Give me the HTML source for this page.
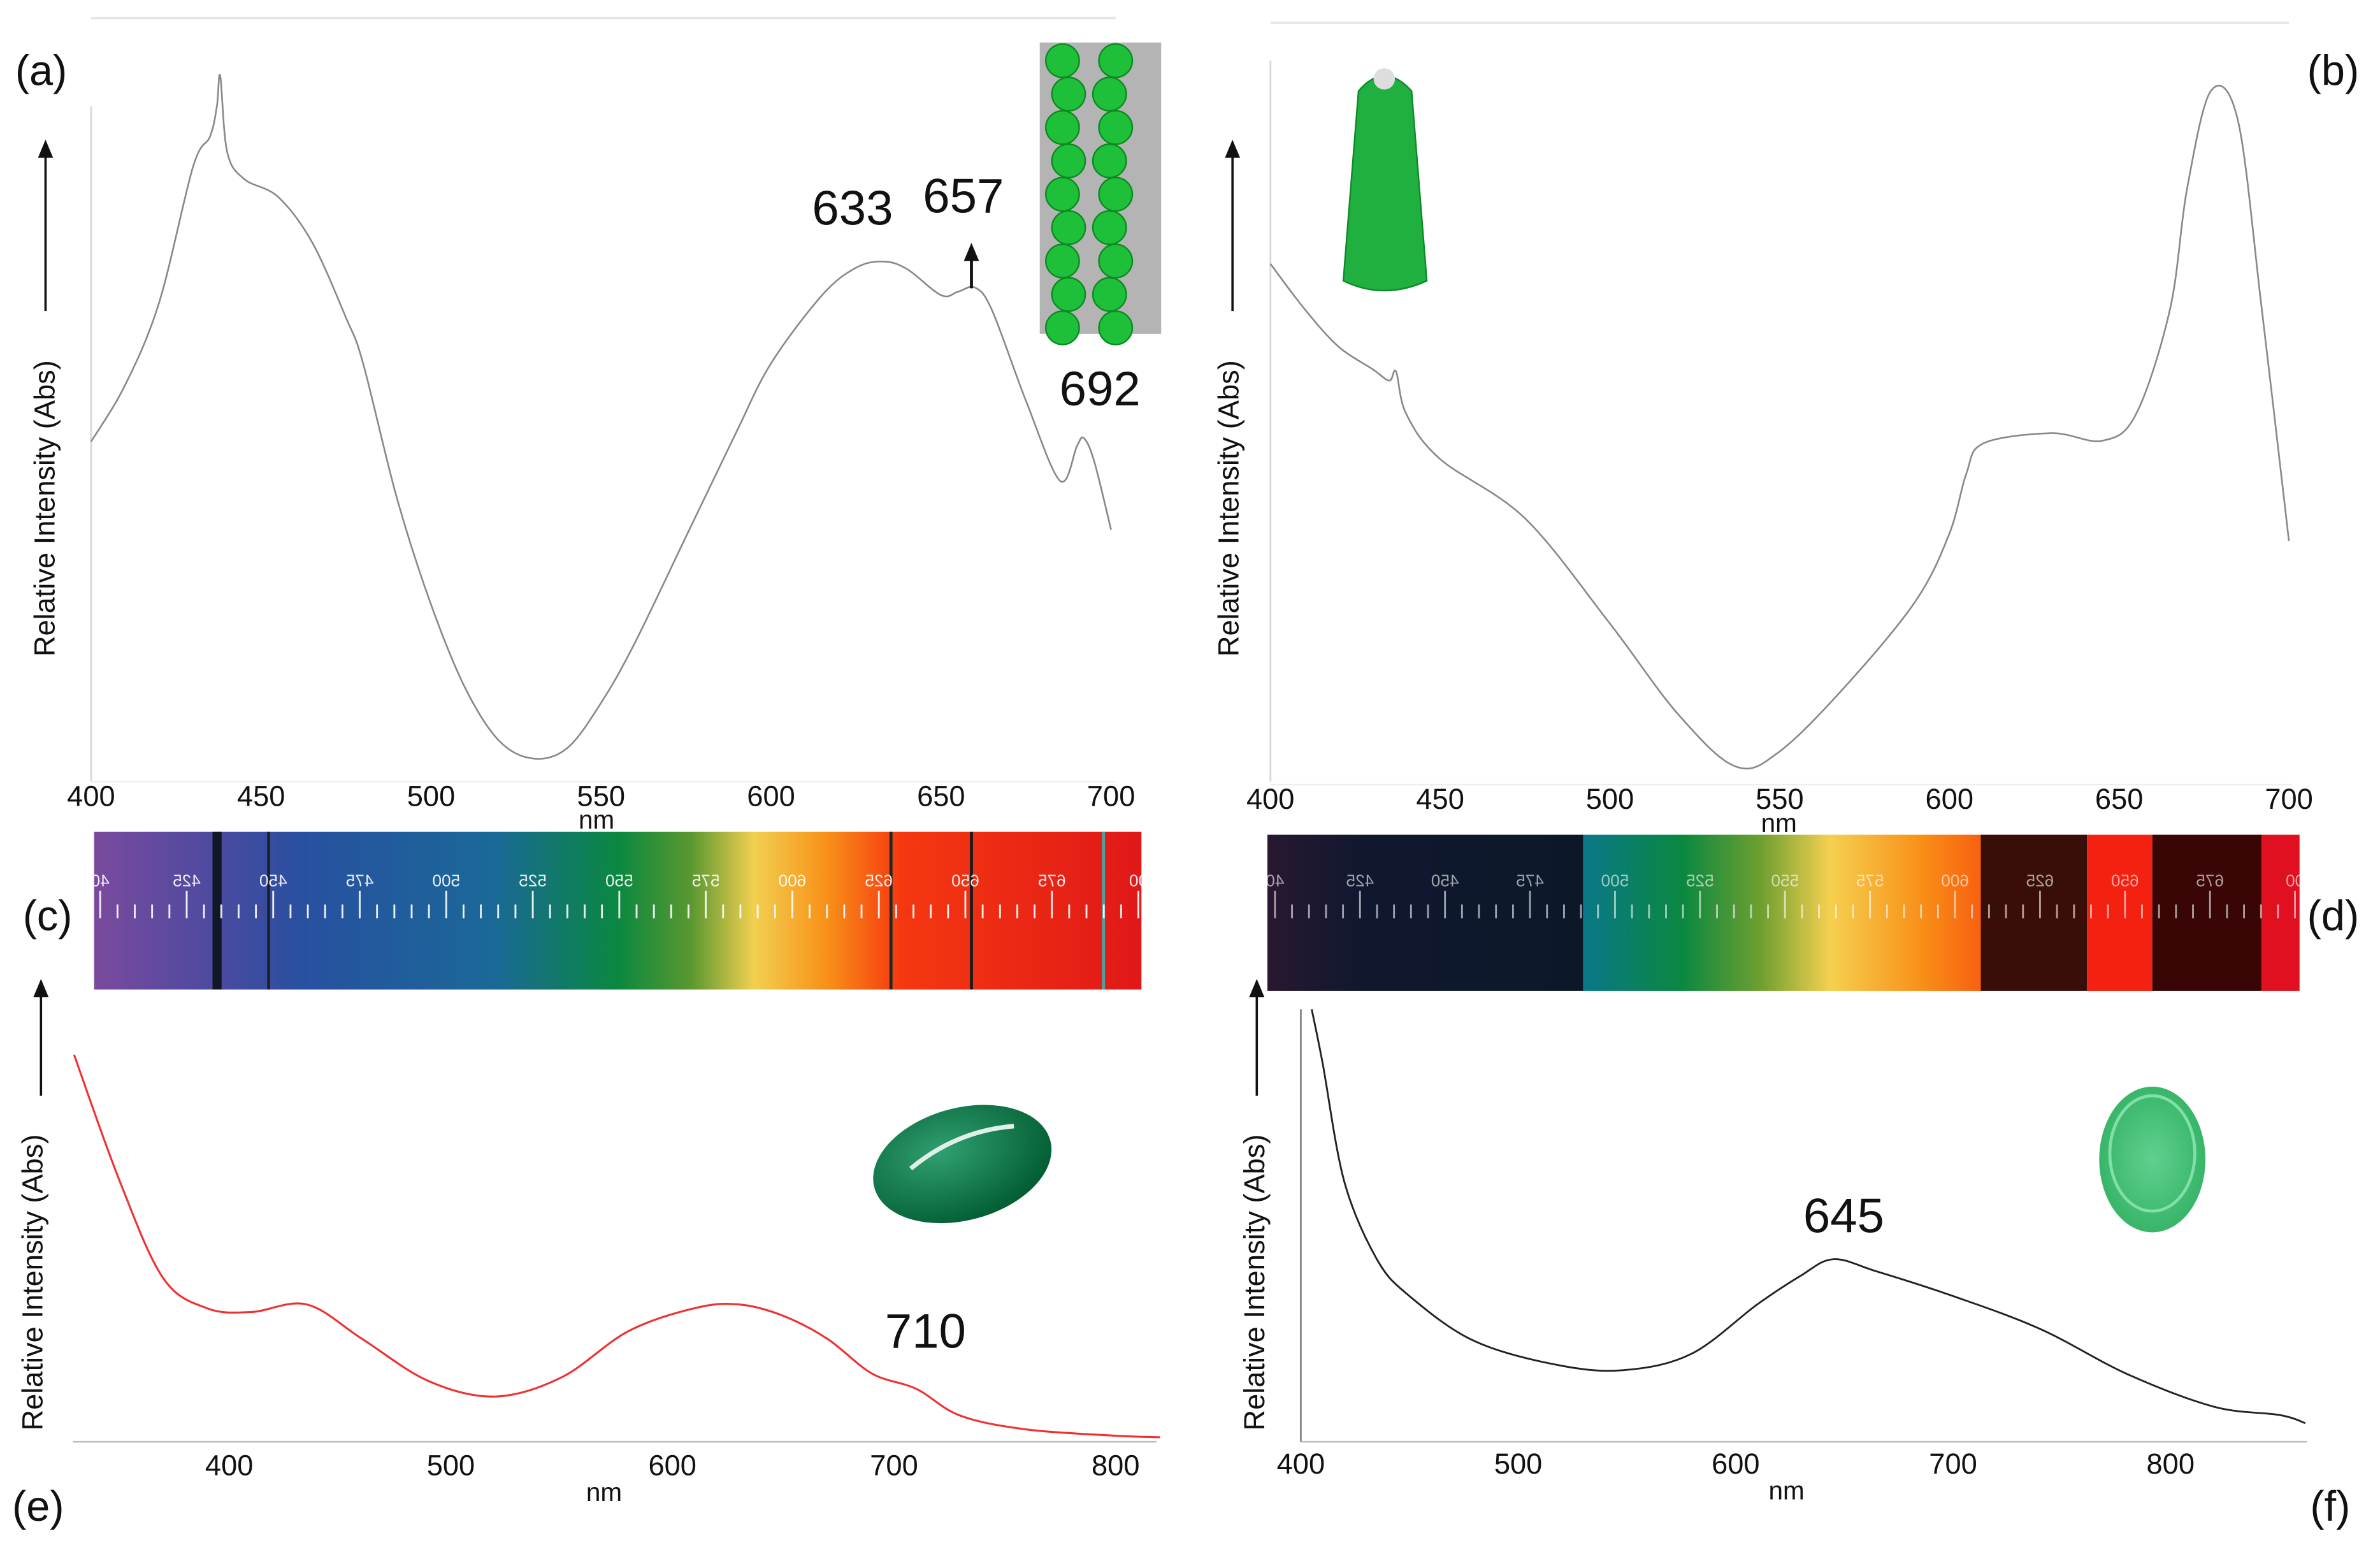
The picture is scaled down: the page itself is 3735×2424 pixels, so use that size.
<!DOCTYPE html>
<html><head><meta charset="utf-8"><style>
html,body{margin:0;padding:0;background:#fff;}
svg{display:block;font-family:"Liberation Sans",Arial,sans-serif;}
</style></head><body>
<svg id="fig" width="3735" height="2424" viewBox="0 0 1568 1018" preserveAspectRatio="none">
<defs>
<linearGradient id="gc" x1="0" x2="1" y1="0" y2="0">
<stop offset="0" stop-color="#7a4a9e"/><stop offset="0.12" stop-color="#4a4aa0"/><stop offset="0.2" stop-color="#2850a0"/><stop offset="0.38" stop-color="#1a6898"/><stop offset="0.5" stop-color="#0a8840"/><stop offset="0.57" stop-color="#5a9830"/><stop offset="0.63" stop-color="#f2d050"/><stop offset="0.7" stop-color="#f89018"/><stop offset="0.77" stop-color="#f53810"/><stop offset="1" stop-color="#e01818"/>
</linearGradient>
<linearGradient id="gd" x1="0" x2="1" y1="0" y2="0">
<stop offset="0" stop-color="#0a7888"/><stop offset="0.25" stop-color="#0a8840"/><stop offset="0.45" stop-color="#70a030"/><stop offset="0.62" stop-color="#f5d050"/><stop offset="0.85" stop-color="#f89018"/><stop offset="1" stop-color="#f86010"/>
</linearGradient>
<linearGradient id="gdl" x1="0" x2="1" y1="0" y2="0"><stop offset="0" stop-color="#281830"/><stop offset="0.3" stop-color="#101830"/><stop offset="1" stop-color="#0c1828"/></linearGradient>
<radialGradient id="gem" cx="0.4" cy="0.35" r="0.7"><stop offset="0" stop-color="#30a070"/><stop offset="1" stop-color="#005a30"/></radialGradient>
<radialGradient id="disc" cx="0.5" cy="0.5" r="0.6"><stop offset="0" stop-color="#60d090"/><stop offset="1" stop-color="#30b060"/></radialGradient>
</defs>
<g id="layer"></g>
</svg>
<script>
// Panel (a) data
const aWl=[400,410,420,430,435,437,438,440,445,455,465,475,480,490,500,510,520,530,540,550,560,575,590,600,615,625,633,640,650,655,660,665,675,685,690,692,695,700];
const aVal=[46.8,55,67,86.8,91.2,95.6,100,89,85,82.4,75.8,64.8,58.2,38.5,23.1,11,3.3,0.7,2.2,8.8,17.6,33,48.4,58.2,68.1,72.1,73,71.9,68.1,68.6,69.2,65.9,52.7,41.1,46.2,47.3,44,34];
// Panel (b) data
const bWl=[400,410,420,430,435,437,440,450,475,500,520,537,550,570,590,600,605,610,630,645,655,665,670,677,685,692,700];
const bVal=[73.6,67,61.5,58.2,56.5,57.8,51.6,45,36.3,20.9,7.7,0,2.2,12.1,24.2,34.1,42.9,47.3,48.8,47.7,51.6,67,84.6,98.9,94.5,67,33];
// Panel (e) data
const eWl=[330,350,370,390,410,435,460,490,520,550,580,610,630,650,670,690,710,730,760,800,820];
const eVal=[100,68,42,34,33,35,26,15,11,16,28,34,35,32,26,17,13,6,2.4,0.8,0.4];
// Panel (f) data
const fWl=[405,410,420,435,450,480,520,550,580,610,630,645,665,700,740,780,820,850,862];
const fVal=[100,87,58,39,30,19,13,12,16,28,35,39,36,30,22,11,3,1,-1];
const axTicksA=[400,450,500,550,600,650,700];
const axTicksE=[400,500,600,700,800];

const svg=document.getElementById('layer');
const NS='http://www.w3.org/2000/svg';
function mk(tag,attrs,name,parent){const e=document.createElementNS(NS,tag);for(const k in attrs)e.setAttribute(k,attrs[k]);


(parent||svg).appendChild(e);return e;}
function txt(x,y,s,size,name,extra){const t=mk('text',Object.assign({x:x,y:y,'font-size':size,fill:'#111'},extra||{}),name);t.textContent=s;return t;}
function smooth(pts){let d='M'+pts[0][0]+','+pts[0][1];for(let i=0;i<pts.length-1;i++){const p0=pts[Math.max(0,i-1)],p1=pts[i],p2=pts[i+1],p3=pts[Math.min(pts.length-1,i+2)];
const c1=[p1[0]+(p2[0]-p0[0])/6,p1[1]+(p2[1]-p0[1])/6],c2=[p2[0]-(p3[0]-p1[0])/6,p2[1]-(p3[1]-p1[1])/6];d+=' C'+c1[0].toFixed(1)+','+c1[1].toFixed(1)+' '+c2[0].toFixed(1)+','+c2[1].toFixed(1)+' '+p2[0].toFixed(1)+','+p2[1].toFixed(1);}return d;}
function lin(d0,d1,r0,r1){return v=>r0+(v-d0)*(r1-r0)/(d1-d0);}

// ---- Panel a ----
const xa=lin(400,700,60,732), ya=lin(0,100,503,50);
mk('line',{x1:60,y1:12,x2:735,y2:12,stroke:'#e4e4e4','stroke-width':1.5},'a-top-border');
mk('line',{x1:60,y1:70,x2:60,y2:515,stroke:'#d8d8d8','stroke-width':1.2},'a-y-axis');
mk('line',{x1:60,y1:515,x2:735,y2:515,stroke:'#eeeeee','stroke-width':1},'a-x-axis');
mk('path',{d:smooth(aWl.map((w,i)=>[xa(w),ya(aVal[i])])),fill:'none',stroke:'#888','stroke-width':1.1},'a-spectrum-line');
axTicksA.forEach(t=>txt(xa(t),531,t,19,'a-x-tick-label',{'text-anchor':'middle'}));
txt(393,546,'nm',17,'a-x-axis-title',{'text-anchor':'middle'});
txt(10,56,'(a)',28,'a-panel-label');
txt(30,335,'Relative Intensity (Abs)',19,'a-y-axis-title',{'text-anchor':'middle',transform:'rotate(-90 30 335)',dy:6});
mk('line',{x1:30,y1:205,x2:30,y2:100,stroke:'#111','stroke-width':1.5},'a-y-arrow');
mk('path',{d:'M25,104 L30,92 L35,104Z',fill:'#111'},'a-y-arrowhead');
txt(535,148,'633',32,'label-633');
txt(608,140,'657',32,'label-657');
mk('line',{x1:640,y1:190,x2:640,y2:170,stroke:'#111','stroke-width':2},'arrow-657');
mk('path',{d:'M635,172 L640,160 L645,172Z',fill:'#111'},'arrow-657-head');
txt(698,267,'692',32,'label-692');
const bg=mk('g',{},'beads-photo');
mk('rect',{x:685,y:28,width:80,height:192,fill:'#b4b4b4'},'beads-bg',bg);
for(let i=0;i<9;i++){mk('circle',{cx:700+(i%2)*4,cy:40+i*22,r:11,fill:'#1ec03a',stroke:'#0a8a20','stroke-width':1},'bead',bg);
mk('circle',{cx:735-(i%2)*4,cy:40+i*22,r:11,fill:'#1ec03a',stroke:'#0a8a20','stroke-width':1},'bead',bg);}

// ---- Panel b ----
const xb=lin(400,700,837,1508), yb=lin(0,100,505,55);
mk('line',{x1:837,y1:15,x2:1508,y2:15,stroke:'#e4e4e4','stroke-width':1.5},'b-top-border');
mk('line',{x1:837,y1:40,x2:837,y2:515,stroke:'#d8d8d8','stroke-width':1.2},'b-y-axis');
mk('line',{x1:837,y1:517,x2:1510,y2:517,stroke:'#eeeeee','stroke-width':1},'b-x-axis');
mk('path',{d:smooth(bWl.map((w,i)=>[xb(w),yb(bVal[i])])),fill:'none',stroke:'#888','stroke-width':1.1},'b-spectrum-line');
axTicksA.forEach(t=>txt(xb(t),533,t,19,'b-x-tick-label',{'text-anchor':'middle'}));
txt(1172,548,'nm',17,'b-x-axis-title',{'text-anchor':'middle'});
txt(1520,56,'(b)',28,'b-panel-label');
txt(810,335,'Relative Intensity (Abs)',19,'b-y-axis-title',{'text-anchor':'middle',transform:'rotate(-90 810 335)',dy:6});
mk('line',{x1:812,y1:205,x2:812,y2:100,stroke:'#111','stroke-width':1.5},'b-y-arrow');
mk('path',{d:'M807,104 L812,92 L817,104Z',fill:'#111'},'b-y-arrowhead');
mk('path',{d:'M895,60 Q912,40 930,60 L940,185 Q912,198 885,185 Z',fill:'#20b040',stroke:'#0a8a28','stroke-width':1},'pendant-photo');
mk('circle',{cx:912,cy:52,r:7,fill:'#ddd'},'pendant-cap');

// ---- Spectrum bars ----
const gcBar=mk('g',{},'spectrum-c');
mk('rect',{x:62,y:548,width:690,height:104,fill:'url(#gc)'},'spectrum-c-bg',gcBar);
[[140,6,'#101828'],[176,2,'#222'],[586,2,'#1a2a2a'],[639,2,'#1a1a1a'],[726,2,'#50a0a0']].forEach(l=>mk('rect',{x:l[0],y:548,width:l[1],height:104,fill:l[2]},'absorption-line',gcBar));
const gdBar=mk('g',{},'spectrum-d');
mk('rect',{x:835,y:550,width:208,height:103,fill:'url(#gdl)'},'d-dark-blue',gdBar);
mk('rect',{x:1043,y:550,width:262,height:103,fill:'url(#gd)'},'d-visible',gdBar);
mk('rect',{x:1305,y:550,width:70,height:103,fill:'#3a0e08'},'d-dark1',gdBar);
mk('rect',{x:1375,y:550,width:43,height:103,fill:'#f42010'},'d-red1',gdBar);
mk('rect',{x:1418,y:550,width:72,height:103,fill:'#3a0505'},'d-dark2',gdBar);
mk('rect',{x:1490,y:550,width:25,height:103,fill:'#e01020'},'d-red2',gdBar);
const scaleLbl=['40','425','450','475','500','525','550','575','600','625','650','675','00'];
function scale(x0,x1,op,g){const step=(x1-x0)/60;for(let i=0;i<=60;i++){const x=x0+i*step,h=i%5==0?18:9;
mk('line',{x1:x,y1:605-h,x2:x,y2:605,stroke:'#fff','stroke-opacity':op,'stroke-width':1.2},'scale-tick',g);}
scaleLbl.forEach((s,i)=>{const x=x0+i*5*step;txt(-x,584,s,11,'scale-label',{transform:'scale(-1,1)','text-anchor':'middle',fill:'#fff','fill-opacity':op});});}
scale(66,750,0.9,gcBar);scale(840,1512,0.6,gdBar);
txt(15,613,'(c)',28,'c-panel-label');
txt(1520,613,'(d)',28,'d-panel-label');

// ---- Panel e ----
const xe=lin(400,800,151,735), ye=lin(0,100,948,695);
mk('line',{x1:48,y1:950,x2:762,y2:950,stroke:'#bbb','stroke-width':1},'e-x-axis');
mk('path',{d:smooth(eWl.map((w,i)=>[xe(w),ye(eVal[i])])),fill:'none',stroke:'#f03030','stroke-width':1.3},'e-spectrum-line');
axTicksE.forEach(t=>txt(xe(t),972,t,19,'e-x-tick-label',{'text-anchor':'middle'}));
txt(398,989,'nm',17,'e-x-axis-title',{'text-anchor':'middle'});
txt(8,1002,'(e)',28,'e-panel-label');
txt(22,845,'Relative Intensity (Abs)',19,'e-y-axis-title',{'text-anchor':'middle',transform:'rotate(-90 22 845)',dy:6});
mk('line',{x1:27,y1:722,x2:27,y2:655,stroke:'#111','stroke-width':1.5},'e-y-arrow');
mk('path',{d:'M22,657 L27,645 L32,657Z',fill:'#111'},'e-y-arrowhead');
txt(583,888,'710',32,'label-710');
mk('ellipse',{cx:634,cy:767,rx:60,ry:37,fill:'url(#gem)',transform:'rotate(-15 634 767)'},'cabochon-photo');
mk('path',{d:'M600,770 Q630,745 668,742',fill:'none',stroke:'#e0f0e8','stroke-width':3},'cabochon-highlight');

// ---- Panel f ----
const xf=lin(400,800,857,1430), yf=lin(0,100,935,665);
mk('line',{x1:857,y1:665,x2:857,y2:950,stroke:'#888','stroke-width':1.2},'f-y-axis');
mk('line',{x1:857,y1:950,x2:1520,y2:950,stroke:'#bbb','stroke-width':1},'f-x-axis');
mk('path',{d:smooth(fWl.map((w,i)=>[xf(w),yf(fVal[i])])),fill:'none',stroke:'#222','stroke-width':1.2},'f-spectrum-line');
axTicksE.forEach(t=>txt(xf(t),971,t,19,'f-x-tick-label',{'text-anchor':'middle'}));
txt(1177,988,'nm',17,'f-x-axis-title',{'text-anchor':'middle'});
txt(1522,1002,'(f)',28,'f-panel-label');
txt(827,845,'Relative Intensity (Abs)',19,'f-y-axis-title',{'text-anchor':'middle',transform:'rotate(-90 827 845)',dy:6});
mk('line',{x1:828,y1:722,x2:828,y2:655,stroke:'#111','stroke-width':1.5},'f-y-arrow');
mk('path',{d:'M823,657 L828,645 L833,657Z',fill:'#111'},'f-y-arrowhead');
txt(1188,812,'645',32,'label-645');
mk('ellipse',{cx:1418,cy:764,rx:35,ry:48,fill:'url(#disc)'},'disc-photo');
mk('ellipse',{cx:1418,cy:760,rx:28,ry:38,fill:'none',stroke:'#80e0a8','stroke-width':2},'disc-rim');
</script>
</body></html>
